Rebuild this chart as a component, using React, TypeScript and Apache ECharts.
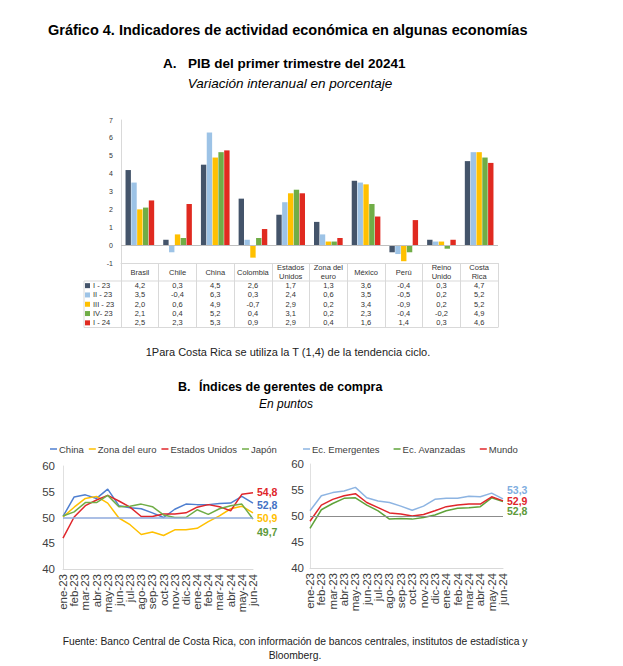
import React, { useEffect, useRef } from "react";
import * as echarts from "echarts";

// ---------- Data: Panel A (GDP) ----------
const countries = ["Brasil", "Chile", "China", "Colombia", "Estados Unidos", "Zona del euro", "México", "Perú", "Reino Unido", "Costa Rica"];
const tableHeaders = ["Brasil", "Chile", "China", "Colombia", "Estados\nUnidos", "Zona del\neuro", "México", "Perú", "Reino\nUnido", "Costa\nRica"];
const quarters = ["I - 23", "II - 23", "III - 23", "IV- 23", "I - 24"];
const gdpI23 = [4.2, 0.3, 4.5, 2.6, 1.7, 1.3, 3.6, -0.4, 0.3, 4.7];
const gdpII23 = [3.5, -0.4, 6.3, 0.3, 2.4, 0.6, 3.5, -0.5, 0.2, 5.2];
const gdpIII23 = [2.0, 0.6, 4.9, -0.7, 2.9, 0.2, 3.4, -0.9, 0.2, 5.2];
const gdpIV23 = [2.1, 0.4, 5.2, 0.4, 3.1, 0.2, 2.3, -0.4, -0.2, 4.9];
const gdpI24 = [2.5, 2.3, 5.3, 0.9, 2.9, 0.4, 1.6, 1.4, 0.3, 4.6];
const gdpSeries = [gdpI23, gdpII23, gdpIII23, gdpIV23, gdpI24];
const barColors = ["#44546A", "#9DC3E6", "#FFC000", "#70AD47", "#E02A20"];

// ---------- Data: Panel B (PMI) ----------
const months = ["ene-23", "feb-23", "mar-23", "abr-23", "may-23", "jun-23", "jul-23", "ago-23", "sep-23", "oct-23", "nov-23", "dic-23", "ene-24", "feb-24", "mar-24", "abr-24", "may-24", "jun-24"];
const pmiChina = [50.2, 54.0, 54.4, 53.7, 55.5, 52.3, 51.9, 51.7, 50.9, 50.0, 51.6, 52.6, 52.5, 52.5, 52.7, 52.8, 54.1, 52.8];
const pmiEuro = [50.1, 52.0, 53.7, 54.1, 52.8, 49.9, 48.6, 46.7, 47.2, 46.5, 47.6, 47.6, 47.9, 49.2, 50.3, 51.7, 52.2, 50.9];
const pmiUSA = [46.0, 50.1, 52.3, 53.4, 54.3, 53.2, 52.0, 50.2, 50.2, 50.7, 50.7, 50.9, 52.0, 52.5, 52.1, 51.3, 54.5, 54.8];
const pmiJapan = [50.3, 51.1, 52.9, 52.9, 54.3, 52.1, 52.2, 52.6, 52.1, 50.5, 50.0, 50.0, 51.5, 50.6, 51.7, 52.3, 52.6, 49.7];
const pmiEmerging = [51.0, 53.9, 54.5, 54.8, 55.5, 53.5, 52.9, 52.6, 51.9, 51.1, 51.9, 53.2, 53.4, 53.4, 53.8, 53.7, 54.4, 53.3];
const pmiAdvanced = [47.6, 51.2, 52.4, 53.4, 53.5, 52.1, 51.0, 49.4, 49.5, 49.4, 49.7, 50.2, 51.0, 51.5, 51.6, 51.8, 53.5, 52.8];
const pmiWorld = [49.0, 52.1, 53.2, 53.9, 54.3, 52.6, 51.6, 50.6, 50.4, 50.0, 50.3, 51.0, 51.8, 52.1, 52.3, 52.3, 53.7, 52.9];
const pmiThreshold = 50;

const FONT = "'Liberation Sans', Arial, sans-serif";
const fmt = (v: number) => v.toFixed(1).replace(".", ",");

// ---------- Layout constants ----------
const BAR_LEFT = 121;
const BAR_TOP = 120;
const BAR_W = 377;
const BAR_H = 143;
const TABLE_TOP = BAR_TOP + BAR_H;
const HEADER_H = 18;
const ROW_H = 9.3;
const TABLE_BOTTOM = TABLE_TOP + HEADER_H + ROW_H * quarters.length;
const LEG_COL_LEFT = 84;
const TABLE_LINE = "#D9D9D9";

export default function App() {
  const ref = useRef<HTMLDivElement>(null);

  useEffect(() => {
    if (!ref.current) return;
    const chart = echarts.init(ref.current, undefined, { renderer: "svg" });

    const tableFormatter = (_v: string, idx: number) => {
      const head = tableHeaders[idx];
      const headPart = head.includes("\n")
        ? head.split("\n").map((h) => `{h2|${h}}`).join("\n")
        : `{h|${head}}`;
      const vals = gdpSeries.map((s) => `{v|${fmt(s[idx])}}`).join("\n");
      return headPart + "\n" + vals;
    };

    const lineSeries = (
      name: string,
      data: number[],
      color: string,
      labelColor: string,
      axis: number,
      dy: number,
      ref50?: string
    ) => {
      const s: any = {
        name,
        type: "line",
        xAxisIndex: axis,
        yAxisIndex: axis,
        data,
        symbol: "none",
        showSymbol: false,
        color,
        lineStyle: { width: 1.5, color },
        endLabel: {
          show: true,
          formatter: (p: any) => fmt(p.value),
          color: labelColor,
          fontWeight: "bold",
          fontSize: 10.5,
          lineHeight: 10,
          fontFamily: FONT,
          distance: 4,
          offset: [0, dy],
        },
      };
      if (ref50) {
        s.markLine = {
          silent: true,
          symbol: ["none", "none"],
          label: { show: false },
          lineStyle: { color: ref50, width: axis === 1 ? 1.5 : 1, type: "solid" },
          data: [{ yAxis: pmiThreshold }],
        };
      }
      return s;
    };

    const text = (t: string, x: number, y: number, opts: any = {}) => ({
      type: "text",
      x,
      y,
      silent: true,
      style: {
        text: t,
        fontFamily: FONT,
        fontSize: 12,
        fill: "#000",
        align: "left",
        verticalAlign: "middle",
        ...opts,
      },
    });

    const tline = (x1: number, y1: number, x2: number, y2: number) => ({
      type: "line",
      silent: true,
      shape: { x1, y1, x2, y2 },
      style: { stroke: TABLE_LINE, lineWidth: 1 },
    });

    const lineLegendText = { fontSize: 9.5, color: "#404040", fontFamily: FONT, padding: [0, 0, 0, -3] };
    const monthLabel = { interval: 0, rotate: 90, fontSize: 11.5, color: "#404040", margin: 5, fontFamily: FONT };

    const option: any = {
      animation: false,
      backgroundColor: "#fff",
      textStyle: { fontFamily: FONT },
      graphic: [
        text("Gráfico 4. Indicadores de actividad económica en algunas economías", 48, 30, { fontWeight: "bold", fontSize: 14.5 }),
        text("A.", 163, 63, { fontWeight: "bold", fontSize: 13.5 }),
        text("PIB del primer trimestre del 20241", 188, 63, { fontWeight: "bold", fontSize: 13.5 }),
        text("Variación interanual en porcentaje", 290, 83, { fontStyle: "italic", fontSize: 13.5, align: "center" }),
        text("1Para Costa Rica se utiliza la T (1,4) de la tendencia ciclo.", 288, 352, { fontSize: 11, align: "center", fill: "#222" }),
        text("B.", 178, 387, { fontWeight: "bold", fontSize: 12.5 }),
        text("Índices de gerentes de compra", 199, 387, { fontWeight: "bold", fontSize: 12.5 }),
        text("En puntos", 286, 404, { fontStyle: "italic", fontSize: 12, align: "center" }),
        text("Fuente: Banco Central de Costa Rica, con información de bancos centrales, institutos de estadística y", 295, 641, { fontSize: 10.3, align: "center", fill: "#222" }),
        text("Bloomberg.", 295, 655, { fontSize: 10.3, align: "center", fill: "#222" }),
        tline(LEG_COL_LEFT, TABLE_TOP + HEADER_H, BAR_LEFT + BAR_W, TABLE_TOP + HEADER_H),
        tline(LEG_COL_LEFT, TABLE_BOTTOM, BAR_LEFT + BAR_W, TABLE_BOTTOM),
        tline(LEG_COL_LEFT, TABLE_TOP + HEADER_H, LEG_COL_LEFT, TABLE_BOTTOM),
      ],
      legend: [
        {
          data: quarters,
          orient: "vertical",
          left: LEG_COL_LEFT + 1,
          top: TABLE_TOP + HEADER_H,
          icon: "rect",
          itemWidth: 5,
          itemHeight: 5,
          itemGap: 0,
          padding: 0,
          selectedMode: false,
          textStyle: { fontSize: 7.5, lineHeight: ROW_H, color: "#333", fontFamily: FONT, padding: [0, 0, 0, -2] },
        },
        {
          data: ["China", "Zona del euro", "Estados Unidos", "Japón"],
          left: 50,
          top: 444,
          icon: "rect",
          itemWidth: 7,
          itemHeight: 1.5,
          itemGap: 5,
          padding: 0,
          selectedMode: false,
          textStyle: lineLegendText,
        },
        {
          data: ["Ec. Emergentes", "Ec. Avanzadas", "Mundo"],
          left: 303,
          top: 444,
          icon: "rect",
          itemWidth: 7,
          itemHeight: 1.5,
          itemGap: 14,
          padding: 0,
          selectedMode: false,
          textStyle: lineLegendText,
        },
      ],
      grid: [
        { left: BAR_LEFT, top: BAR_TOP, width: BAR_W, height: BAR_H },
        { left: 63, top: 466, width: 190, height: 103 },
        { left: 310, top: 464, width: 193, height: 104 },
      ],
      xAxis: [
        {
          gridIndex: 0,
          type: "category",
          data: countries,
          axisLine: { onZero: false, lineStyle: { color: TABLE_LINE } },
          axisTick: { show: true, alignWithLabel: false, length: TABLE_BOTTOM - TABLE_TOP, lineStyle: { color: TABLE_LINE } },
          axisLabel: {
            interval: 0,
            margin: 0,
            color: "#333",
            verticalAlign: "top",
            formatter: tableFormatter,
            rich: {
              h: { fontSize: 7.5, lineHeight: HEADER_H, color: "#333", fontFamily: FONT, align: "center" },
              h2: { fontSize: 7.5, lineHeight: HEADER_H / 2, color: "#333", fontFamily: FONT, align: "center" },
              v: { fontSize: 7.5, lineHeight: ROW_H, color: "#333", fontFamily: FONT, align: "center" },
            },
          },
        },
        {
          gridIndex: 1,
          type: "category",
          data: months,
          boundaryGap: false,
          axisLine: { lineStyle: { color: "#D9D9D9" } },
          axisTick: { show: false },
          axisLabel: monthLabel,
        },
        {
          gridIndex: 2,
          type: "category",
          data: months,
          boundaryGap: false,
          axisLine: { lineStyle: { color: "#D9D9D9" } },
          axisTick: { show: false },
          axisLabel: monthLabel,
        },
      ],
      yAxis: [
        {
          gridIndex: 0,
          type: "value",
          min: -1,
          max: 7,
          interval: 1,
          axisLine: { show: true, lineStyle: { color: TABLE_LINE } },
          axisTick: { show: false },
          splitLine: { show: false },
          axisLabel: { fontSize: 7, color: "#333", margin: 8, fontFamily: FONT },
        },
        {
          gridIndex: 1,
          type: "value",
          min: 40,
          max: 60,
          interval: 5,
          axisLine: { show: true, lineStyle: { color: "#E0E0E0" } },
          axisTick: { show: false },
          splitLine: { show: false },
          axisLabel: { fontSize: 11.5, color: "#404040", margin: 8, fontFamily: FONT },
        },
        {
          gridIndex: 2,
          type: "value",
          min: 40,
          max: 60,
          interval: 5,
          axisLine: { show: true, lineStyle: { color: "#E0E0E0" } },
          axisTick: { show: false },
          splitLine: { show: false },
          axisLabel: { fontSize: 11.5, color: "#404040", margin: 6, fontFamily: FONT },
        },
      ],
      series: [
        ...gdpSeries.map((data, i) => {
          const s: any = {
            name: quarters[i],
            type: "bar",
            xAxisIndex: 0,
            yAxisIndex: 0,
            data,
            color: barColors[i],
            itemStyle: { color: barColors[i] },
            barGap: "8%",
            barCategoryGap: "24%",
          };
          if (i === 0) {
            s.markLine = {
              silent: true,
              symbol: ["none", "none"],
              label: { show: false },
              lineStyle: { color: "#BFBFBF", width: 1, type: "solid" },
              data: [{ yAxis: 0 }],
            };
          }
          return s;
        }),
        lineSeries("China", pmiChina, "#4F7FD0", "#4472C4", 1, 2, "#8FAADC"),
        lineSeries("Zona del euro", pmiEuro, "#FFC000", "#FFC000", 1, 5),
        lineSeries("Estados Unidos", pmiUSA, "#E0262B", "#E0262B", 1, -1),
        lineSeries("Japón", pmiJapan, "#70AD47", "#5E9A3A", 1, 13),
        lineSeries("Ec. Emergentes", pmiEmerging, "#8DB4E2", "#7FAEE0", 2, -8.5),
        lineSeries("Ec. Avanzadas", pmiAdvanced, "#5FA33A", "#5E9A3A", 2, 10),
        lineSeries("Mundo", pmiWorld, "#E0262B", "#E0262B", 2, 0, "#8C8C8C"),
      ],
    };

    chart.setOption(option);
    return () => chart.dispose();
  }, []);

  return (
    <div
      ref={ref}
      style={{ position: "absolute", left: 0, top: 0, width: 623, height: 666, background: "#fff" }}
    />
  );
}
